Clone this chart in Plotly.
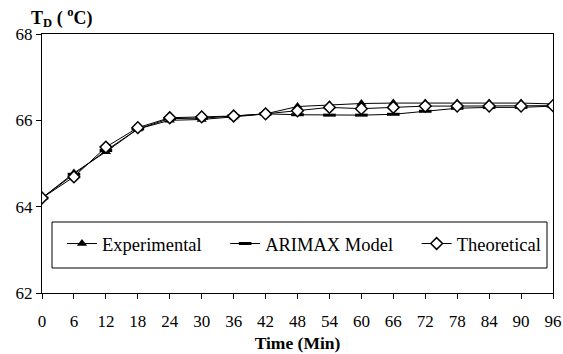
import plotly.graph_objects as go

time = [0, 6, 12, 18, 24, 30, 36, 42, 48, 54, 60, 66, 72, 78, 84, 90, 96]
experimental = [64.2, 64.78, 65.27, 65.8, 66.0, 66.02, 66.08, 66.15, 66.32, 66.36, 66.39, 66.4, 66.4, 66.4, 66.4, 66.4, 66.38]
arimax = [64.2, 64.75, 65.3, 65.8, 66.04, 66.05, 66.1, 66.15, 66.13, 66.12, 66.12, 66.14, 66.21, 66.28, 66.3, 66.3, 66.33]
theoretical = [64.2, 64.69, 65.38, 65.83, 66.06, 66.08, 66.1, 66.15, 66.22, 66.3, 66.27, 66.3, 66.33, 66.33, 66.33, 66.33, 66.34]

x_ticks = list(range(0, 97, 6))
y_ticks = [62, 64, 66, 68]

FONT = "Times New Roman, Liberation Serif, serif"
PAD = "\u00a0" * 4

fig = go.Figure()
fig.add_trace(go.Scatter(
    x=time, y=experimental, name="Experimental" + PAD, mode="lines+markers",
    line=dict(color="black", width=1),
    marker=dict(symbol="triangle-up", size=9, color="black"),
))
fig.add_trace(go.Scatter(
    x=time, y=arimax, name="ARIMAX Model" + PAD, mode="lines+markers",
    line=dict(color="black", width=1),
    marker=dict(symbol="line-ew", size=9, color="black", line=dict(color="black", width=3)),
))
fig.add_trace(go.Scatter(
    x=time, y=theoretical, name="Theoretical", mode="lines+markers",
    line=dict(color="black", width=1),
    marker=dict(symbol="diamond", size=9, color="white", line=dict(color="black", width=1.5)),
))

W, H = 563, 354
L, R, T, B = 42, 10, 34, 61
pw, ph = W - L - R, H - T - B

def px_x(x):
    return (x - L) / pw

def px_y(y):
    return (H - B - y) / ph

fig.add_shape(type="rect", xref="paper", yref="paper",
              x0=px_x(52), x1=px_x(547), y0=px_y(268), y1=px_y(222),
              line=dict(color="black", width=1), fillcolor="white", layer="below")

fig.update_layout(
    width=W, height=H,
    margin=dict(l=L, r=R, t=T, b=B),
    paper_bgcolor="white", plot_bgcolor="white",
    font=dict(family=FONT, size=17, color="black"),
    showlegend=True,
    legend=dict(
        orientation="h", x=px_x(62), y=px_y(244), xanchor="left", yanchor="middle",
        bgcolor="rgba(0,0,0,0)", borderwidth=0,
        font=dict(family=FONT, size=18.5, color="black"),
        itemwidth=30,
    ),
    xaxis=dict(
        range=[0, 96], tickmode="array", tickvals=x_ticks, ticktext=[str(v) for v in x_ticks],
        showline=True, linecolor="black", linewidth=1, mirror=True,
        ticks="outside", ticklen=5, tickcolor="black", showgrid=False, zeroline=False,
        ticklabelstandoff=8, automargin=False,
        title=dict(text="<b>Time (Min)</b>", font=dict(family=FONT, size=17.5), standoff=6),
    ),
    yaxis=dict(
        range=[62, 68], tickmode="array", tickvals=y_ticks, ticktext=[str(v) for v in y_ticks],
        showline=True, linecolor="black", linewidth=1, mirror=True,
        ticks="outside", ticklen=5, tickcolor="black", showgrid=False, zeroline=False,
        automargin=False,
    ),
    annotations=[dict(
        text="<b>T<sub>D</sub> ( <sup>o</sup>C)</b>", xref="paper", yref="paper",
        x=px_x(29), y=px_y(18), xanchor="left", yanchor="middle", showarrow=False,
        font=dict(family=FONT, size=18, color="black"),
    )],
)

fig.write_html("out.html", config={"displayModeBar": False},
               post_script="document.body.style.margin='0';")
